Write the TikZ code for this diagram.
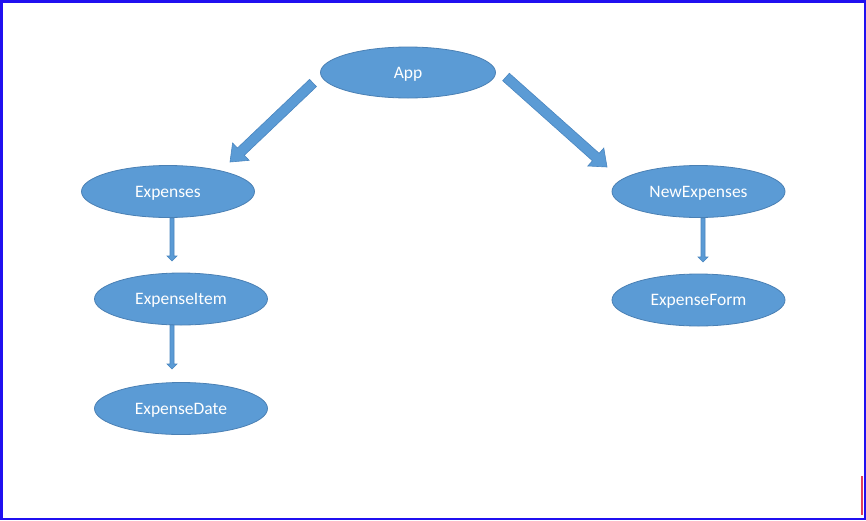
\documentclass[tikz,border=0pt]{standalone}
\usepackage{fontspec}
\setmainfont{Carlito}
\usetikzlibrary{shapes.geometric,calc}
\definecolor{nodefill}{HTML}{5B9BD5}
\definecolor{nodeline}{HTML}{4A80B4}
\definecolor{arrline}{HTML}{4A86C0}
\definecolor{frameblue}{HTML}{2010F0}
\definecolor{markred}{HTML}{E0405A}
\tikzset{
  comp/.style={ellipse, fill=nodefill, draw=nodeline, line width=0.8pt,
    minimum width=173pt, minimum height=52pt, inner sep=0pt,
    text height=12pt, text depth=1pt,
    text=white, font=\fontsize{17.5}{20}\selectfont},
  blockarr/.style={fill=nodefill, draw=arrline, line width=0.6pt, line join=miter}
}
% block arrow: start, end, half shaft width, half head width, head length
\newcommand\blockarrow[5]{%
  \coordinate (ba-b) at ($(#2)!#5!(#1)$);
  \filldraw[blockarr]
    ($(#1)!#3!90:(#2)$) -- ($(ba-b)!#3!-90:(#1)$) -- ($(ba-b)!#4!-90:(#1)$)
    -- (#2) -- ($(ba-b)!#4!90:(#1)$) -- ($(ba-b)!#3!90:(#1)$)
    -- ($(#1)!#3!-90:(#2)$) -- cycle;}
\begin{document}
\begin{tikzpicture}[x=1pt, y=-1pt]
  \useasboundingbox (0,0) rectangle (866,520);
  \fill[white] (0,0) rectangle (866,520);

  % components
  \node[comp, minimum width=175pt, minimum height=51pt] (App) at (408,72.5) {App};
  \node[comp] (Expenses) at (168,191.5) {Expenses};
  \node[comp] (ExpenseItem) at (181,299) {ExpenseItem};
  \node[comp] (ExpenseDate) at (181,408.5) {ExpenseDate};
  \node[comp] (NewExpenses) at (698.5,191.5) {NewExpenses};
  \node[comp] (ExpenseForm) at (698.5,300) {ExpenseForm};

  % arrow end points
  \coordinate (a1s) at (313,83);
  \coordinate (a1e) at (230,162);
  \coordinate (a2s) at (506,77);
  \coordinate (a2e) at (607,167);
  \coordinate (v1s) at (172,218);
  \coordinate (v1e) at (172,261);
  \coordinate (v2s) at (172,325);
  \coordinate (v2e) at (172,369);
  \coordinate (v3s) at (703,218);
  \coordinate (v3e) at (703,262);

  % App to children
  \blockarrow{a1s}{a1e}{5pt}{12pt}{15pt}
  \blockarrow{a2s}{a2e}{5pt}{12pt}{15pt}
  % nested components
  \blockarrow{v1s}{v1e}{2pt}{5pt}{5pt}
  \blockarrow{v2s}{v2e}{2pt}{5pt}{5pt}
  \blockarrow{v3s}{v3e}{2pt}{5pt}{5pt}

  % frame
  \draw[frameblue, line width=2.5pt] (1.25,1.25) rectangle (864.75,518.75);
  \fill[markred] (860.5,476) rectangle (862.8,515);
\end{tikzpicture}
\end{document}
